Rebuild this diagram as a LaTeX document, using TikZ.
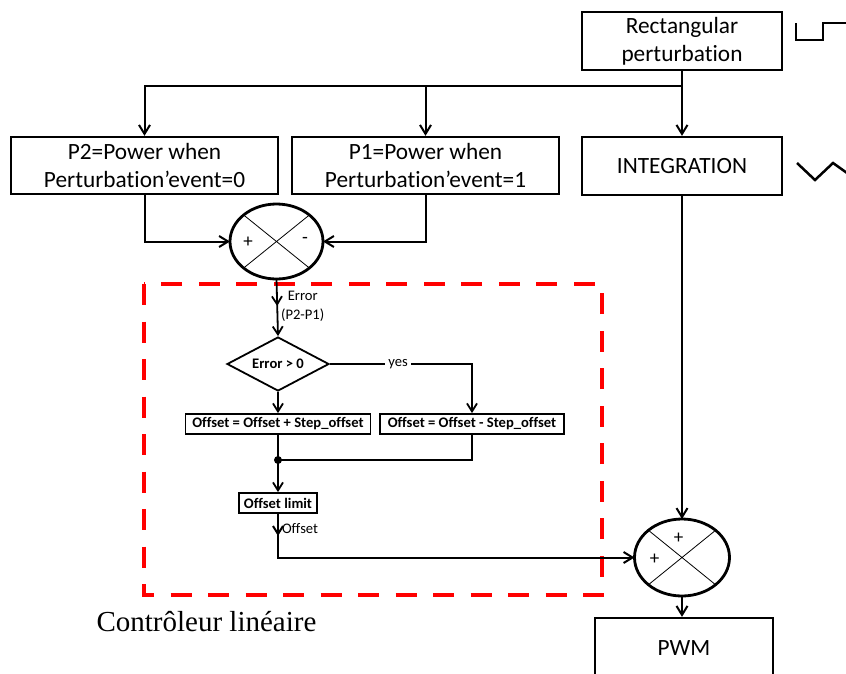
\documentclass[tikz,border=0pt]{standalone}
\usepackage{fontspec}
\setmainfont[Ligatures=NoCommon]{Carlito}
\newfontfamily\capfont{Liberation Serif}
\usetikzlibrary{arrows.meta, positioning, shapes.geometric, decorations.markings, calc}
\definecolor{mRed}{HTML}{FF0000}

\newcommand{\bigtxt}{\fontsize{23.3}{28}\selectfont}
\newcommand{\smalltxt}{\fontsize{14.6}{19}\selectfont}

\begin{document}
\begin{tikzpicture}[x=1pt, y=-1pt,
      blk/.style={draw, line width=2.3pt, minimum width=200pt, minimum height=58pt,
        inner sep=0pt, align=center, font=\bigtxt},
      sbx/.style={draw, line width=1.8pt, minimum height=20pt, inner sep=0pt,
        font=\smalltxt\bfseries},
      sumnd/.style={draw, ellipse, line width=2.8pt, inner sep=0pt, outer sep=0pt},
      decnd/.style={draw, diamond, line width=1.8pt, inner sep=0pt, aspect=1.9,
        minimum width=102pt, minimum height=54pt, font=\smalltxt\bfseries},
      lbl/.style={font=\smalltxt, inner sep=3pt},
      sgn/.style={inner sep=0pt, font=\fontsize{19}{19}\selectfont},
      arr/.style={line width=2pt, -{Straight Barb[length=9pt, width=11pt]}},
      sarr/.style={line width=1.8pt, -{Straight Barb[length=8pt, width=10pt]}},
      midarr/.style={postaction={decorate}, decoration={markings,
        mark=at position #1 with {\arrow{Straight Barb[length=8pt, width=10pt]}}}},
      wave/.style={line width=2.5pt}]
    \useasboundingbox (0,0) rectangle (846,673);
    \clip (0,0) rectangle (846,673);

    % top row
    \node[blk] (rect) at (682,41) {Rectangular\\perturbation};
    \node[blk] (integ) at (682,166) {INTEGRATION};
    \node[blk, minimum width=267pt, minimum height=57pt] (p2) at (144.5,165.5)
      {P2=Power when\\Perturbation’event=0};
    \node[blk, minimum width=267pt, minimum height=57pt] (p1) at (425.5,165.5)
      {P1=Power when\\Perturbation’event=1};
    \coordinate (bus) at (682,86);

    % signals
    \draw[wave] (796,23) -- (796,40) -- (823,40) -- (823,23) -- (846,23);
    \draw[wave] (797,163) -- (815,180) -- (833,163) -- (847,173);

    % comparator
    \node[sumnd, minimum width=93pt, minimum height=75pt] (s1) at (276.5,241.5) {};
    \draw[line width=0.8pt] (s1.north west) -- (s1.south east)
      (s1.north east) -- (s1.south west);
    \node[sgn] at ($(s1.center)+(-28.5,0.5)$) {+};
    \node[sgn] at ($(s1.center)+(28.5,-1.5)$) {-};

    % linear controller
    \node[decnd] (dec) at (278,364) {Error > 0};
    \node[sbx, minimum width=185pt] (boxa) at (278,424) {Offset = Offset + Step\_offset};
    \node[sbx, minimum width=184pt] (boxb) at (472,424) {Offset = Offset - Step\_offset};
    \coordinate (jn) at (278,460);
    \node[sbx, minimum width=78pt] (lim) at (278,503) {Offset limit};
    \draw[mRed, line width=4.7pt, dash pattern=on 21pt off 16.5pt] (144,284) rectangle (602,595);
    \node[font=\capfont\fontsize{29}{34}\selectfont] (cap) at (206.5,622) {Contrôleur linéaire};

    % output
    \node[sumnd, minimum width=95pt, minimum height=77pt] (s2) at (682,557.5) {};
    \draw[line width=0.8pt] (s2.north west) -- (s2.south east)
      (s2.north east) -- (s2.south west);
    \node[sgn] at ($(s2.center)+(-3.5,-19.5)$) {+};
    \node[sgn] at ($(s2.center)+(-27.5,1.5)$) {+};
    \node[blk, minimum width=178pt, minimum height=60pt] (pwm) at (684,648) {PWM};

    % connectors
    \draw[arr] (rect) -- (integ);
    \draw[arr] (bus) -| (p2);
    \draw[arr] (bus) -| (p1);
    \draw[arr] (p2.south) |- (s1.west);
    \draw[arr] (p1.south) |- (s1.east);
    \draw[sarr, midarr=27pt] (s1.south) -- node[lbl, right, align=center, pos=0.47]
      {Error\\(P2-P1)} (dec.north);
    \draw[sarr] (dec.south) -- (boxa.north);
    \draw[sarr] (dec.east) -| node[lbl, fill=white, pos=0.24] {yes} (boxb.north);
    \draw[line width=1.8pt] (boxa.south) -- (jn);
    \draw[line width=1.8pt] (boxb.south) |- (jn);
    \fill (jn) circle (4);
    \draw[sarr] (jn) -- (lim.north);
    \draw[arr, midarr=22pt] (lim.south) |- node[lbl, right, pos=0.17] {Offset} (s2.west);
    \draw[arr] (integ) -- (s2);
    \draw[arr] (s2.south) -- (s2.south |- pwm.north);
  \end{tikzpicture}
\end{document}
